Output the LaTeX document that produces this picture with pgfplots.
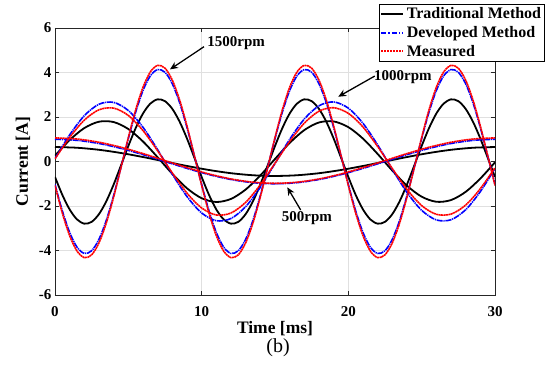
\documentclass[border=0pt]{standalone}
\usepackage{fontspec}
\setmainfont{Liberation Serif}
\usepackage{pgfplots}
\usepackage{pgfplotstable}
\pgfplotsset{compat=1.18}
\usetikzlibrary{arrows.meta}

% 1500 rpm
\pgfplotstableread{
t b d m
0 -0.696 -1.030 -1.077
0.5 -1.500 -2.218 -2.320
1 -2.157 -3.190 -3.336
1.5 -2.603 -3.849 -4.026
2 -2.794 -4.132 -4.321
2.5 -2.712 -4.010 -4.194
3 -2.364 -3.495 -3.656
3.5 -1.785 -2.639 -2.760
4 -1.031 -1.524 -1.594
4.5 -0.176 -0.260 -0.272
5 0.696 1.030 1.077
5.5 1.500 2.218 2.320
6 2.157 3.190 3.336
6.5 2.603 3.849 4.026
7 2.794 4.132 4.321
7.5 2.712 4.010 4.194
8 2.364 3.495 3.656
8.5 1.785 2.639 2.760
9 1.031 1.524 1.594
9.5 0.176 0.260 0.272
10 -0.696 -1.030 -1.077
10.5 -1.500 -2.218 -2.320
11 -2.157 -3.190 -3.336
11.5 -2.603 -3.849 -4.026
12 -2.794 -4.132 -4.321
12.5 -2.712 -4.010 -4.194
13 -2.364 -3.495 -3.656
13.5 -1.785 -2.639 -2.760
14 -1.031 -1.524 -1.594
14.5 -0.176 -0.260 -0.272
15 0.696 1.030 1.077
15.5 1.500 2.218 2.320
16 2.157 3.190 3.336
16.5 2.603 3.849 4.026
17 2.794 4.132 4.321
17.5 2.712 4.010 4.194
18 2.364 3.495 3.656
18.5 1.785 2.639 2.760
19 1.031 1.524 1.594
19.5 0.176 0.260 0.272
20 -0.696 -1.030 -1.077
20.5 -1.500 -2.218 -2.320
21 -2.157 -3.190 -3.336
21.5 -2.603 -3.849 -4.026
22 -2.794 -4.132 -4.321
22.5 -2.712 -4.010 -4.194
23 -2.364 -3.495 -3.656
23.5 -1.785 -2.639 -2.760
24 -1.031 -1.524 -1.594
24.5 -0.176 -0.260 -0.272
25 0.696 1.030 1.077
25.5 1.500 2.218 2.320
26 2.157 3.190 3.336
26.5 2.603 3.849 4.026
27 2.794 4.132 4.321
27.5 2.712 4.010 4.194
28 2.364 3.495 3.656
28.5 1.785 2.639 2.760
29 1.031 1.524 1.594
29.5 0.176 0.260 0.272
30 -0.696 -1.030 -1.077
}\tblA

% 1000 rpm
\pgfplotstableread{
t b d m
0 0.262 0.133 0.120
1 0.964 1.197 1.081
2 1.503 2.059 1.860
3 1.789 2.575 2.325
4 1.773 2.657 2.399
5 1.459 2.291 2.069
6 0.899 1.539 1.390
7 0.188 0.528 0.477
8 -0.555 -0.572 -0.516
9 -1.205 -1.575 -1.422
10 -1.651 -2.313 -2.089
11 -1.820 -2.662 -2.404
12 -1.681 -2.562 -2.314
13 -1.260 -2.030 -1.833
14 -0.626 -1.157 -1.045
15 0.113 -0.088 -0.080
16 0.833 0.995 0.898
17 1.413 1.910 1.725
18 1.755 2.505 2.262
19 1.801 2.677 2.417
20 1.544 2.398 2.165
21 1.027 1.715 1.549
22 0.337 0.743 0.671
23 -0.410 -0.353 -0.319
24 -1.088 -1.391 -1.256
25 -1.582 -2.194 -1.981
26 -1.810 -2.627 -2.373
27 -1.733 -2.618 -2.364
28 -1.364 -2.168 -1.958
29 -0.765 -1.353 -1.222
30 -0.037 -0.310 -0.280
}\tblB

% 500 rpm
\pgfplotstableread{
t b d m
0 0.650 1.000 1.060
1.5 0.618 0.951 1.010
3 0.526 0.809 0.865
4.5 0.382 0.588 0.640
6 0.201 0.309 0.355
7.5 0 0 0.040
9 -0.201 -0.309 -0.275
10.5 -0.382 -0.588 -0.560
12 -0.526 -0.809 -0.785
13.5 -0.618 -0.951 -0.930
15 -0.650 -1.000 -0.980
16.5 -0.618 -0.951 -0.930
18 -0.526 -0.809 -0.785
19.5 -0.382 -0.588 -0.560
21 -0.201 -0.309 -0.275
22.5 0 0 0.040
24 0.201 0.309 0.355
25.5 0.382 0.588 0.640
27 0.526 0.809 0.865
28.5 0.618 0.951 1.010
30 0.650 1.000 1.060
}\tblC

\begin{document}
\begin{tikzpicture}
\begin{axis}[
 scale only axis, width=440pt, height=267pt,
 xmin=0, xmax=30, ymin=-6, ymax=6,
 xtick={0,10,20,30}, ytick={-6,-4,-2,0,2,4,6},
 xticklabels={0,10,20,30}, yticklabels={-6,-4,-2,0,2,4,6},
 tick align=inside, tick pos=both, major tick length=4pt,
 grid=major, major grid style={color=black!12, line width=0.5pt},
 axis line style={line width=0.7pt, color=black!85},
 tick style={line width=0.6pt, color=black!85},
 ticklabel style={font=\bfseries\fontsize{15}{15}\selectfont},
 xticklabel style={yshift=-8pt},
 xlabel={Time [ms]}, ylabel={Current [A]},
 label style={font=\bfseries\fontsize{17.5}{18}\selectfont},
 xlabel style={at={(axis description cs:0.5,-0.127)}, anchor=center},
 ylabel style={at={(axis description cs:-0.073,0.5)}, anchor=center},
 legend cell align=left,
 legend style={at={(rel axis cs:1.1136,1.09)}, anchor=north east, draw=black, line width=0.7pt, fill=white, font=\bfseries\fontsize{16}{16}\selectfont, inner sep=1pt, row sep=1pt, nodes={inner sep=2.5pt}},
 legend image code/.code={\draw[#1] (0pt,0pt) -- (22pt,0pt);},
]
\addlegendimage{black, line width=1.6pt}
\addlegendentry{Traditional Method}
\addlegendimage{blue, line width=1.6pt, dash pattern=on 5pt off 2pt on 1.5pt off 2pt}
\addlegendentry{Developed Method}
\addlegendimage{red, line width=1.8pt, dash pattern=on 2pt off 1pt}
\addlegendentry{Measured}

\addplot[black, line width=1.8pt, smooth, forget plot] table[x=t,y=b]{\tblC};
\addplot[black, line width=1.8pt, smooth, forget plot] table[x=t,y=b]{\tblB};
\addplot[black, line width=1.8pt, smooth, forget plot] table[x=t,y=b]{\tblA};
\addplot[blue, line width=1.6pt, smooth, dash pattern=on 6pt off 0.8pt on 1.2pt off 0.8pt, forget plot] table[x=t,y=d]{\tblC};
\addplot[blue, line width=1.6pt, smooth, dash pattern=on 6pt off 0.8pt on 1.2pt off 0.8pt, forget plot] table[x=t,y=d]{\tblB};
\addplot[blue, line width=1.6pt, smooth, dash pattern=on 6pt off 0.8pt on 1.2pt off 0.8pt, forget plot] table[x=t,y=d]{\tblA};
\addplot[red, line width=1.6pt, smooth, dash pattern=on 2pt off 0.5pt, forget plot] table[x=t,y=m]{\tblC};
\addplot[red, line width=1.6pt, smooth, dash pattern=on 2pt off 0.5pt, forget plot] table[x=t,y=m]{\tblB};
\addplot[red, line width=1.6pt, smooth, dash pattern=on 2pt off 0.5pt, forget plot] table[x=t,y=m]{\tblA};

\draw[-{Stealth[length=8pt,width=7pt]}, line width=1.3pt] (axis cs:10.16,5.16) -- (axis cs:7.84,4.14);
\draw[-{Stealth[length=8pt,width=7pt]}, line width=1.3pt] (axis cs:21.8,3.84) -- (axis cs:19.31,2.91);
\draw[-{Stealth[length=8pt,width=7pt]}, line width=1.3pt] (axis cs:16.75,-2.18) -- (axis cs:15.84,-1.16);
\node[font=\bfseries\fontsize{15}{15}\selectfont] at (axis cs:12.35,5.31) {1500rpm};
\node[font=\bfseries\fontsize{15}{15}\selectfont] at (axis cs:23.72,3.78) {1000rpm};
\node[font=\bfseries\fontsize{15}{15}\selectfont] at (axis cs:17.18,-2.55) {500rpm};

\coordinate (SW) at (rel axis cs:0,0);
\coordinate (NE) at (rel axis cs:1,1);
\coordinate (B) at (axis description cs:0.507,-0.197);
\end{axis}
\node[font=\fontsize{20}{20}\selectfont] at (B) {(b)};
\pgfresetboundingbox
\useasboundingbox ([xshift=-55pt,yshift=-78pt]SW) rectangle ([xshift=58pt,yshift=28pt]NE);
\end{tikzpicture}
\end{document}
